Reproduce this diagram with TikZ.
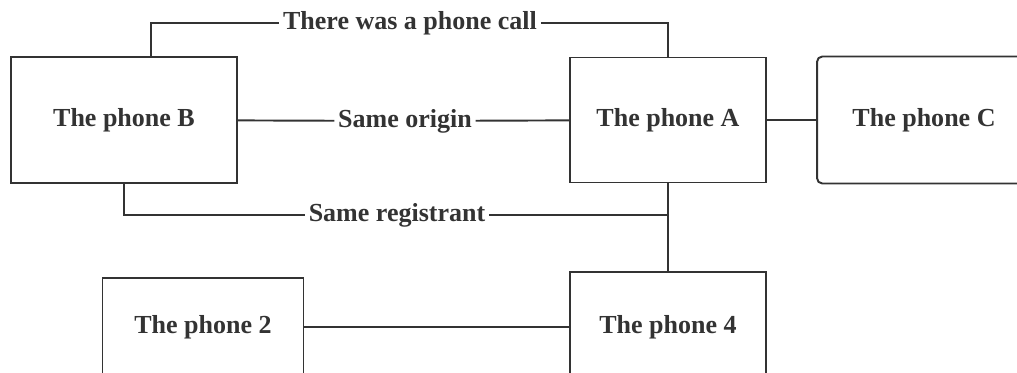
\documentclass[tikz,border=0pt]{standalone}
\usepackage{fontspec}
\setmainfont{Liberation Serif}
\usetikzlibrary{positioning}

\definecolor{inkgray}{HTML}{333333}

\begin{document}
\begin{tikzpicture}[x=0.02cm, y=0.02cm,
    phone/.style={draw=inkgray, line width=1.1pt, fill=white, text=inkgray,
      font=\fontsize{14.8}{17}\selectfont\bfseries},
    relation/.style={fill=white, text=inkgray, inner xsep=2pt, inner ysep=1pt,
      font=\fontsize{14.8}{17}\selectfont\bfseries},
    link/.style={draw=inkgray, line width=1.1pt}]
    \tikzstyle{every node}+=[inner sep=0pt]
    \useasboundingbox (0,0) rectangle (1017,-372);
    \clip (0,0) rectangle (1017,-372);
    % the phones
    \node [phone, minimum width=4.52cm, minimum height=2.52cm] (phoneB) at (124,-120) {The phone B};
    \node [phone, minimum width=3.92cm, minimum height=2.5cm] (phoneA) at (668,-120) {The phone A};
    \node [phone, rounded corners=3pt, minimum width=4.28cm, minimum height=2.54cm] (phoneC) at (924,-120) {The phone C};
    \node [phone, minimum width=4.02cm, minimum height=1.96cm] (phone2) at (203,-327) {The phone 2};
    \node [phone, minimum width=3.92cm, minimum height=2.2cm] (phone4) at (668,-327) {The phone 4};
    % relations between them
    \node [relation] (call) at (410,-23) {There was a phone call};
    \node [relation] (origin) at (405,-121) {Same origin};
    \node [relation] (registrant) at (397,-215) {Same registrant};
    \draw [link] (phoneB.67) |- (call) -| (phoneA.north);
    \draw [link] (phoneB) -- (origin) -- (phoneA);
    \draw [link] (phoneA) -- (phoneC);
    \draw [link] (phoneB) |- (registrant) -| (phoneA);
    \draw [link] (phoneA) -- (phone4);
    \draw [link] (phone2) -- (phone4);
\end{tikzpicture}
\end{document}
